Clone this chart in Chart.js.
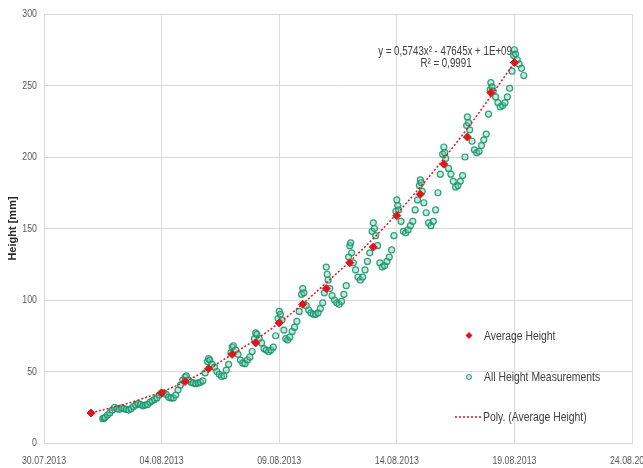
<!DOCTYPE html>
<html>
<head>
<meta charset="utf-8">
<script src="https://cdn.jsdelivr.net/npm/chart.js@4.4.1/dist/chart.umd.min.js"></script>
<style>
  html, body { margin: 0; padding: 0; background: #fff; }
  #wrap { width: 643px; height: 468px; }
</style>
</head>
<body>
<div id="wrap"><canvas id="heightChart" width="643" height="468"></canvas></div>
<script>
// x values are days counted from 30.07.2013
const xTickLabels = ["30.07.2013", "04.08.2013", "09.08.2013", "14.08.2013", "19.08.2013", "24.08.2013"];
const yTickLabels = ["0", "50", "100", "150", "200", "250", "300"];

// Average Height (red markers)
const avgDays = [2, 5, 6, 7, 8, 9, 10, 11, 12, 13, 14, 15, 16, 17, 18, 19, 20];
const avgHeight = [21, 35, 43, 52, 62, 70, 84, 97, 108, 126, 137, 159, 174, 195, 214, 245, 266];

// Poly. (Average Height) - dotted trend
const trendDays = [2, 4, 6, 8, 10, 12, 14, 16, 18, 20];
const trendHeight = [21, 30, 43, 62, 84, 112, 143, 179, 220, 266];

// All Height Measurements (green circles), one row per day
const measDays = [
  2.50, 2.55, 2.60, 2.70, 2.80, 2.90,
  3.00, 3.10, 3.20, 3.30, 3.40, 3.50, 3.60, 3.70, 3.80, 3.90,
  4.00, 4.10, 4.20, 4.30, 4.40, 4.50, 4.60, 4.70, 4.80, 4.90,
  5.00, 5.10, 5.20, 5.30, 5.40, 5.50, 5.60, 5.70, 5.80, 5.90,
  6.00, 6.05, 6.15, 6.25, 6.35, 6.45, 6.55, 6.65, 6.75, 6.85, 6.95,
  7.00, 7.05, 7.15, 7.25, 7.35, 7.45, 7.55, 7.65, 7.75, 7.85, 7.95,
  8.00, 8.05, 8.15, 8.25, 8.35, 8.45, 8.55, 8.65, 8.75, 8.85, 8.95,
  9.00, 9.05, 9.15, 9.25, 9.35, 9.45, 9.55, 9.65, 9.75, 9.85, 9.95,
  10.00, 10.05, 10.12, 10.20, 10.28, 10.36, 10.45, 10.55, 10.65, 10.75, 10.85, 10.95,
  11.00, 11.05, 11.15, 11.25, 11.35, 11.45, 11.55, 11.65, 11.75, 11.85, 11.92,
  12.00, 12.04, 12.08, 12.15, 12.25, 12.35, 12.45, 12.55, 12.65, 12.75, 12.85, 12.95,
  13.00, 13.04, 13.08, 13.15, 13.25, 13.35, 13.45, 13.55, 13.65, 13.75, 13.85, 13.95,
  14.00, 14.05, 14.10, 14.18, 14.28, 14.38, 14.48, 14.58, 14.68, 14.78, 14.88, 14.96,
  15.00, 15.04, 15.08, 15.18, 15.28, 15.38, 15.48, 15.58, 15.68, 15.78, 15.88, 15.96,
  16.00, 16.04, 16.08, 16.15, 16.25, 16.35, 16.45, 16.55, 16.65, 16.75, 16.85, 16.95,
  17.00, 17.04, 17.08, 17.20, 17.30, 17.40, 17.50, 17.60, 17.70, 17.80, 17.90, 17.97,
  18.00, 18.05, 18.10, 18.20, 18.30, 18.40, 18.50, 18.60, 18.70, 18.80, 18.90, 18.97,
  19.00, 19.05, 19.10, 19.20, 19.30, 19.40, 19.50, 19.60, 19.70, 19.80, 19.90, 19.97,
  20.00, 20.05, 20.12, 20.20, 20.30, 20.40
];
const measHeight = [
  17, 17.5, 18, 19.5, 21, 23,
  25, 24, 23.5, 24.5, 24, 23.5, 23, 24, 25.5, 26.5,
  27.5, 27, 26, 26.5, 27, 28.5, 29.5, 30.5, 31.5, 33.5,
  35, 35, 34, 32, 31.5, 31.5, 33.5, 37, 40.5, 44,
  46, 47, 44, 42.5, 42, 41.5, 42, 42.5, 43.5, 49, 57,
  59, 58, 55, 53, 50, 48, 46.5, 47, 51, 55, 63,
  67, 68, 65, 62, 58, 56, 55.5, 58, 60, 64, 73,
  77, 76, 73, 70, 66, 65, 64, 65, 67, 75, 87,
  92, 90, 86, 79, 73, 72, 74, 78, 81, 85, 92, 104,
  108, 105, 96, 93, 91, 90, 90, 91, 94, 98, 105,
  123, 118, 114, 108, 103, 100, 98, 97, 99, 104, 110, 130,
  138, 140, 133, 126, 121, 116, 114, 116, 121, 127, 133, 148,
  154, 150, 145, 138, 126, 123, 124, 127, 130, 135, 145, 162,
  170, 166, 163, 155, 148, 147, 149, 152, 155, 163, 170, 180,
  184, 182, 176, 168, 161, 154, 152, 155, 163, 175, 188, 202,
  207, 203, 199, 192, 188, 183, 179, 180, 183, 187, 200, 222,
  228, 224, 219, 211, 205, 203, 204, 208, 212, 216, 230, 247,
  252, 249, 246, 242, 238, 235, 236, 238, 242, 248, 260, 271,
  275, 272, 268, 265, 262, 257
];

const equationLines = ["y = 0,5743x\u00b2 - 47645x + 1E+09", "R\u00b2 = 0,9991"];

const sans = "'Liberation Sans', Arial, sans-serif";
const gridColor = "#d9d9d9";
const textColor = "#595959";
const redColor = "#e3141c";
const greenLine = "rgba(22, 150, 110, 0.9)";
const greenFill = "rgba(110, 200, 165, 0.4)";

const toPoints = (xs, ys) => xs.map((x, i) => ({ x: x, y: ys[i] }));

// the original text is narrow, so squeeze it horizontally
function narrowText(ctx, text, x, y, align, squeeze) {
  ctx.save();
  ctx.translate(x, y);
  ctx.scale(squeeze, 1);
  ctx.textAlign = align;
  ctx.fillText(text, 0, 0);
  ctx.restore();
}

// tick labels, legend and trend equation
const annotations = {
  id: "annotations",
  afterDraw(chart) {
    const ctx = chart.ctx;
    const xs = chart.scales.x;
    const ys = chart.scales.y;
    ctx.save();
    ctx.textBaseline = "middle";

    ctx.fillStyle = textColor;
    ctx.font = "11px " + sans;
    xs.ticks.forEach((t, i) => {
      narrowText(ctx, xTickLabels[i], xs.getPixelForValue(t.value), 461, "center", 0.8);
    });
    ys.ticks.forEach((t, i) => {
      narrowText(ctx, yTickLabels[i], ys.left + ys.width - 7, ys.getPixelForValue(t.value), "right", 0.8);
    });

    ctx.fillStyle = "#404040";
    ctx.font = "12px " + sans;
    narrowText(ctx, equationLines[0], 445, 52, "center", 0.81);
    narrowText(ctx, equationLines[1], 446, 64, "center", 0.81);

    ctx.font = "13px " + sans;
    narrowText(ctx, "Average Height", 484, 336, "left", 0.8);
    narrowText(ctx, "All Height Measurements", 484, 377, "left", 0.8);
    narrowText(ctx, "Poly. (Average Height)", 483, 417, "left", 0.8);

    // red diamond
    ctx.fillStyle = redColor;
    ctx.beginPath();
    ctx.moveTo(469, 332);
    ctx.lineTo(472.5, 335.5);
    ctx.lineTo(469, 339);
    ctx.lineTo(465.5, 335.5);
    ctx.closePath();
    ctx.fill();

    // green circle
    ctx.beginPath();
    ctx.arc(469, 377, 2.5, 0, Math.PI * 2);
    ctx.fillStyle = greenFill;
    ctx.fill();
    ctx.strokeStyle = greenLine;
    ctx.lineWidth = 1;
    ctx.stroke();

    // dotted trend sample
    ctx.strokeStyle = redColor;
    ctx.lineWidth = 1.5;
    ctx.setLineDash([2, 2]);
    ctx.beginPath();
    ctx.moveTo(455, 417);
    ctx.lineTo(481, 417);
    ctx.stroke();
    ctx.restore();
  }
};

const ctx = document.getElementById("heightChart").getContext("2d");
new Chart(ctx, {
  type: "scatter",
  data: {
    datasets: [
      {
        label: "Average Height",
        data: toPoints(avgDays, avgHeight),
        pointStyle: "rectRot",
        pointRadius: 4,
        backgroundColor: redColor,
        borderColor: redColor,
        borderWidth: 1,
      },
      {
        label: "Poly. (Average Height)",
        type: "line",
        data: toPoints(trendDays, trendHeight),
        borderColor: redColor,
        borderWidth: 1.5,
        borderDash: [2, 2],
        pointRadius: 0,
        fill: false,
        tension: 0.4,
      },
      {
        label: "All Height Measurements",
        data: toPoints(measDays, measHeight),
        pointStyle: "circle",
        pointRadius: 3,
        borderWidth: 1.2,
        borderColor: greenLine,
        backgroundColor: greenFill,
      },
    ],
  },
  options: {
    responsive: false,
    animation: false,
    devicePixelRatio: 1,
    layout: { padding: { left: 0, top: 14, right: 11, bottom: 0 } },
    plugins: {
      legend: { display: false },
      tooltip: { enabled: false },
    },
    scales: {
      x: {
        type: "linear",
        min: 0,
        max: 25,
        afterFit: (scale) => {
          scale.height = 25;
          scale.paddingLeft = 0;
          scale.paddingRight = 0;
        },
        ticks: { stepSize: 5, display: false },
        grid: { color: gridColor, drawTicks: false },
        border: { color: gridColor },
      },
      y: {
        min: 0,
        max: 300,
        afterFit: (scale) => {
          scale.width = 44;
          scale.paddingTop = 0;
          scale.paddingBottom = 0;
        },
        ticks: { stepSize: 50, display: false },
        grid: { color: gridColor, drawTicks: false },
        border: { color: gridColor },
        title: {
          display: true,
          text: "Height [mm]",
          color: "#262626",
          padding: { top: 6, bottom: 0 },
          font: { family: sans, size: 11, weight: "bold" },
        },
      },
    },
  },
  plugins: [annotations],
});
</script>
</body>
</html>
